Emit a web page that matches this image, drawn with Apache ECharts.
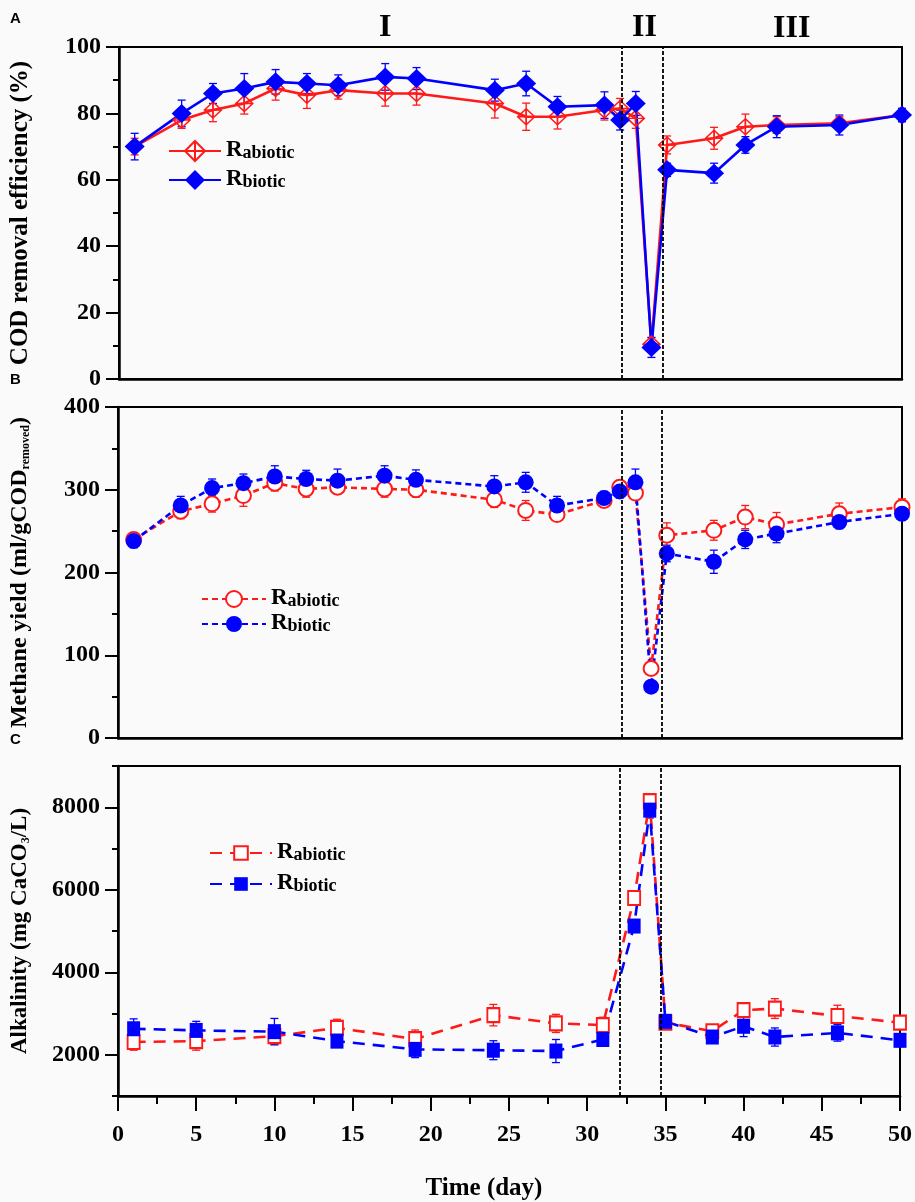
<!DOCTYPE html>
<html>
<head>
<meta charset="utf-8">
<script src="https://cdn.jsdelivr.net/npm/echarts@6/dist/echarts.min.js"></script>
<style>
  html, body { margin: 0; padding: 0; background: #fafafa; }
  #chart { width: 915px; height: 1202px; }
</style>
</head>
<body>
<div id="chart"></div>
<script>
// sampling days
const daysAB = [1, 4, 6, 8, 10, 12, 14, 17, 19, 24, 26, 28, 31, 32, 33, 34, 35, 38, 40, 42, 46, 50];
const daysC = [1, 5, 10, 14, 19, 24, 28, 31, 33, 34, 35, 38, 40, 42, 46, 50];
// phase boundaries (I | II | III)
const phaseBounds = [32.1, 34.7];

// A: COD removal efficiency (%)
const codAbiotic = [70, 78, 81, 83, 87.5, 85.5, 87, 86, 86, 83, 79, 79, 81, 81.5, 78.5, 10.5, 70.5, 72.5, 76, 76.5, 77, 79.5];
const codAbioticErr = [2.5, 2.5, 3.5, 3.2, 3.5, 4, 2.7, 3.8, 3.5, 4.4, 4.1, 3.7, 3, 3, 3, 2, 2.7, 3.3, 3.8, 2.5, 2, 2];
const codBiotic = [70, 80, 86, 87.5, 89.5, 89, 88.5, 91, 90.5, 87, 89, 82, 82.5, 78, 83, 9.5, 63, 62, 70.5, 76, 76.5, 79.5];
const codBioticErr = [4, 4, 3, 4.5, 3.7, 3, 3.1, 4, 3.3, 3.3, 3.7, 3.1, 4, 3, 3.6, 3, 2, 3, 2.5, 3.3, 3, 2];

// B: methane yield (ml/gCOD removed)
const ch4Abiotic = [240, 274, 283, 293, 308, 301, 303, 301, 300, 288, 275, 270, 287, 303, 296, 84, 245, 251, 267, 258, 271, 279];
const ch4AbioticErr = [6, 9, 10, 13, 9.5, 10, 8, 10, 9, 9.4, 12, 8, 8, 8, 8, 6, 15, 12, 14, 14.5, 13, 10];
const ch4Biotic = [238, 281, 302, 308, 316, 313, 311, 317, 312, 304, 309, 281, 290, 298, 309, 62, 223, 213, 240, 247, 261, 271];
const ch4BioticErr = [8, 11, 11, 11, 13, 10.5, 14, 12, 12, 13, 12, 11, 8, 8, 16, 6, 10, 14, 11, 11, 8, 8];

// C: alkalinity (mg CaCO3/L)
const alkAbiotic = [2310, 2330, 2450, 2650, 2380, 2960, 2760, 2720, 5800, 8150, 2780, 2570, 3080, 3120, 2940, 2780];
const alkAbioticErr = [200, 220, 200, 210, 220, 260, 220, 190, 150, 160, 150, 150, 170, 240, 260, 160];
const alkBiotic = [2630, 2590, 2560, 2330, 2130, 2110, 2090, 2370, 5120, 7930, 2810, 2430, 2690, 2430, 2530, 2350];
const alkBioticErr = [240, 220, 320, 150, 200, 230, 280, 150, 150, 190, 160, 150, 250, 220, 200, 150];

// axis ticks
const xTicks = { min: 0, max: 50, interval: 5 };
const codTicks = { min: 0, max: 100, interval: 20 };
const ch4Ticks = { min: 0, max: 400, interval: 100 };
const alkRange = { min: 1000, max: 9000 };
const alkMajor = [2000, 4000, 6000, 8000];

const RED = '#ff1a1a';
const BLUE = '#0000ff';
const SERIF = '"Liberation Serif", "Times New Roman", serif';

const pairs = (xs, ys) => xs.map((x, i) => [x, ys[i]]);
const errData = (xs, ys, es) => xs.map((x, i) => [x, ys[i] - es[i], ys[i] + es[i]]);

function errRender(params, api) {
  const x = api.value(0);
  const lo = api.coord([x, api.value(1)]);
  const hi = api.coord([x, api.value(2)]);
  const w = 4;
  const style = { stroke: api.visual('color'), lineWidth: 1.3 };
  return {
    type: 'group',
    children: [
      { type: 'line', shape: { x1: lo[0], y1: lo[1], x2: hi[0], y2: hi[1] }, style: style },
      { type: 'line', shape: { x1: lo[0] - w, y1: lo[1], x2: lo[0] + w, y2: lo[1] }, style: style },
      { type: 'line', shape: { x1: hi[0] - w, y1: hi[1], x2: hi[0] + w, y2: hi[1] }, style: style }
    ]
  };
}

const tickStyle = { color: '#000', width: 2 };
const axisLine = { show: true, lineStyle: { color: '#000', width: 2.5 } };
const labelStyle = { color: '#000', fontFamily: SERIF, fontWeight: 'bold', fontSize: 24 };
function nameStyle(size) {
  return {
    color: '#000', fontFamily: SERIF, fontWeight: 'bold', fontSize: size,
    rich: {
      s: { fontFamily: SERIF, fontWeight: 'bold', fontSize: 12, verticalAlign: 'bottom', lineHeight: 6 }
    }
  };
}

const phaseLines = {
  silent: true,
  symbol: ['none', 'none'],
  label: { show: false },
  lineStyle: { color: '#000', type: [4, 2], width: 1.8 },
  data: phaseBounds.map(v => ({ xAxis: v }))
};

const crossDiamond = 'path://M10,0L20,10L10,20L0,10Z M0,10L20,10 M10,0L10,20';

const legendText = {
  color: '#000', fontFamily: SERIF, fontWeight: 'bold',
  rich: {
    r: { fontFamily: SERIF, fontWeight: 'bold', fontSize: 23, verticalAlign: 'bottom', lineHeight: 22 },
    s: { fontFamily: SERIF, fontWeight: 'bold', fontSize: 18, verticalAlign: 'bottom', lineHeight: 8 }
  }
};
const legendFmt = name => name.indexOf('abiotic') >= 0 ? '{r|R}{s|abiotic}' : '{r|R}{s|biotic}';

function xAxisFor(idx, showLabels) {
  return {
    type: 'value', gridIndex: idx, min: xTicks.min, max: xTicks.max, interval: xTicks.interval,
    axisLine: axisLine,
    axisTick: { show: showLabels, length: 15, lineStyle: tickStyle },
    minorTick: { show: showLabels, splitNumber: 2, length: 8, lineStyle: tickStyle },
    axisLabel: Object.assign({ show: showLabels, margin: 27 }, labelStyle),
    splitLine: { show: false },
    name: showLabels ? 'Time (day)' : '',
    nameLocation: 'middle', nameGap: 80,
    nameTextStyle: { color: '#000', fontFamily: SERIF, fontWeight: 'bold', fontSize: 25, padding: [0, 50, 0, 0] }
  };
}

function yAxisFor(idx, ticks, name, size) {
  return {
    type: 'value', gridIndex: idx, min: ticks.min, max: ticks.max, interval: ticks.interval,
    axisLine: axisLine,
    axisTick: { show: true, length: 13, lineStyle: tickStyle },
    minorTick: { show: true, splitNumber: 2, length: 6, lineStyle: tickStyle },
    axisLabel: Object.assign({ margin: 18 }, labelStyle),
    splitLine: { show: false },
    name: name, nameLocation: 'middle', nameGap: 86,
    nameTextStyle: nameStyle(size)
  };
}

function lineSeries(name, axis, xs, ys, color, symbol, size, dash, fill) {
  return {
    name: name, type: 'line', xAxisIndex: axis, yAxisIndex: axis,
    data: pairs(xs, ys),
    symbol: symbol, symbolSize: size,
    lineStyle: { color: color, width: 2.6, type: dash },
    itemStyle: fill
      ? { color: fill, borderColor: color, borderWidth: 1.5 }
      : { color: color, borderWidth: 1.5 },
    z: 3
  };
}

function errSeries(axis, xs, ys, es, color) {
  return {
    type: 'custom', xAxisIndex: axis, yAxisIndex: axis,
    renderItem: errRender, itemStyle: { color: color },
    encode: { x: 0, y: [1, 2] },
    data: errData(xs, ys, es), z: 2
  };
}

const chart = echarts.init(document.getElementById('chart'));

const aAbiotic = lineSeries('A_abiotic', 0, daysAB, codAbiotic, RED, crossDiamond, [17, 16], 'solid', 'rgba(0,0,0,0)');
aAbiotic.markLine = phaseLines;
const bAbiotic = lineSeries('B_abiotic', 1, daysAB, ch4Abiotic, RED, 'emptyCircle', 15, [6, 4]);
bAbiotic.markLine = phaseLines;
const cAbiotic = lineSeries('C_abiotic', 2, daysC, alkAbiotic, RED, 'emptyRect', [12, 14], [12, 8]);
cAbiotic.markLine = phaseLines;

const alkAxis = yAxisFor(2, { min: alkRange.min, max: alkRange.max, interval: 1000 }, 'Alkalinity (mg CaCO{s|3}/L)', 23);
alkAxis.axisTick = { show: true, length: 6, lineStyle: tickStyle };
alkAxis.minorTick = { show: false };
alkAxis.axisLabel.formatter = v => (alkMajor.indexOf(v) >= 0 ? String(v) : '');

const option = {
  backgroundColor: '#fafafa',
  animation: false,
  grid: [
    { left: 118, right: 13, top: 47, height: 332, show: true, borderColor: '#000', borderWidth: 2, backgroundColor: 'transparent' },
    { left: 118, right: 13, top: 407, height: 331, show: true, borderColor: '#000', borderWidth: 2, backgroundColor: 'transparent' },
    { left: 118, right: 13, top: 766, height: 332, show: true, borderColor: '#000', borderWidth: 2, backgroundColor: 'transparent' }
  ],
  xAxis: [xAxisFor(0, false), xAxisFor(1, false), xAxisFor(2, true)],
  yAxis: [
    yAxisFor(0, codTicks, 'COD removal efficiency (%)', 25),
    yAxisFor(1, ch4Ticks, 'Methane yield (ml/gCOD{s|removed})', 24),
    alkAxis,
    {
      type: 'value', gridIndex: 2, min: alkRange.min, max: alkRange.max, position: 'left',
      axisLine: { show: false },
      axisTick: { show: true, length: 13, lineStyle: tickStyle, customValues: alkMajor },
      axisLabel: { show: false },
      splitLine: { show: false }
    }
  ],
  legend: [
    { data: ['A_abiotic', 'A_biotic'], orient: 'vertical', left: 163, top: 134, itemWidth: 52, itemHeight: 25, itemGap: 6, formatter: legendFmt, textStyle: legendText },
    { data: ['B_abiotic', 'B_biotic'], orient: 'vertical', left: 196, top: 582, itemWidth: 64, itemHeight: 20, itemGap: 2, formatter: legendFmt, textStyle: legendText },
    { data: ['C_abiotic', 'C_biotic'], orient: 'vertical', left: 204, top: 836, itemWidth: 62, itemHeight: 17, itemGap: 8, formatter: legendFmt, textStyle: legendText }
  ],
  graphic: [
    { type: 'text', left: 379, top: 12, style: { text: 'I', font: 'bold 32px ' + SERIF, fill: '#000' } },
    { type: 'text', left: 632, top: 12, style: { text: 'II', font: 'bold 32px ' + SERIF, fill: '#000' } },
    { type: 'text', left: 773, top: 13, style: { text: 'III', font: 'bold 32px ' + SERIF, fill: '#000' } },
    { type: 'text', left: 10, top: 11, style: { text: 'A', font: 'bold 15px "Liberation Sans", Arial, sans-serif', fill: '#000' } },
    { type: 'text', left: 10, top: 372, style: { text: 'B', font: 'bold 15px "Liberation Sans", Arial, sans-serif', fill: '#000' } },
    { type: 'text', left: 10, top: 732, style: { text: 'C', font: 'bold 15px "Liberation Sans", Arial, sans-serif', fill: '#000' } }
  ],
  series: [
    errSeries(0, daysAB, codAbiotic, codAbioticErr, RED),
    aAbiotic,
    errSeries(0, daysAB, codBiotic, codBioticErr, BLUE),
    lineSeries('A_biotic', 0, daysAB, codBiotic, BLUE, 'diamond', [20, 19], 'solid'),

    errSeries(1, daysAB, ch4Abiotic, ch4AbioticErr, RED),
    bAbiotic,
    errSeries(1, daysAB, ch4Biotic, ch4BioticErr, BLUE),
    lineSeries('B_biotic', 1, daysAB, ch4Biotic, BLUE, 'circle', 16, [6, 4]),

    errSeries(2, daysC, alkAbiotic, alkAbioticErr, RED),
    cAbiotic,
    errSeries(2, daysC, alkBiotic, alkBioticErr, BLUE),
    lineSeries('C_biotic', 2, daysC, alkBiotic, BLUE, 'rect', [13, 15], [12, 8])
  ]
};

chart.setOption(option);
</script>
</body>
</html>
